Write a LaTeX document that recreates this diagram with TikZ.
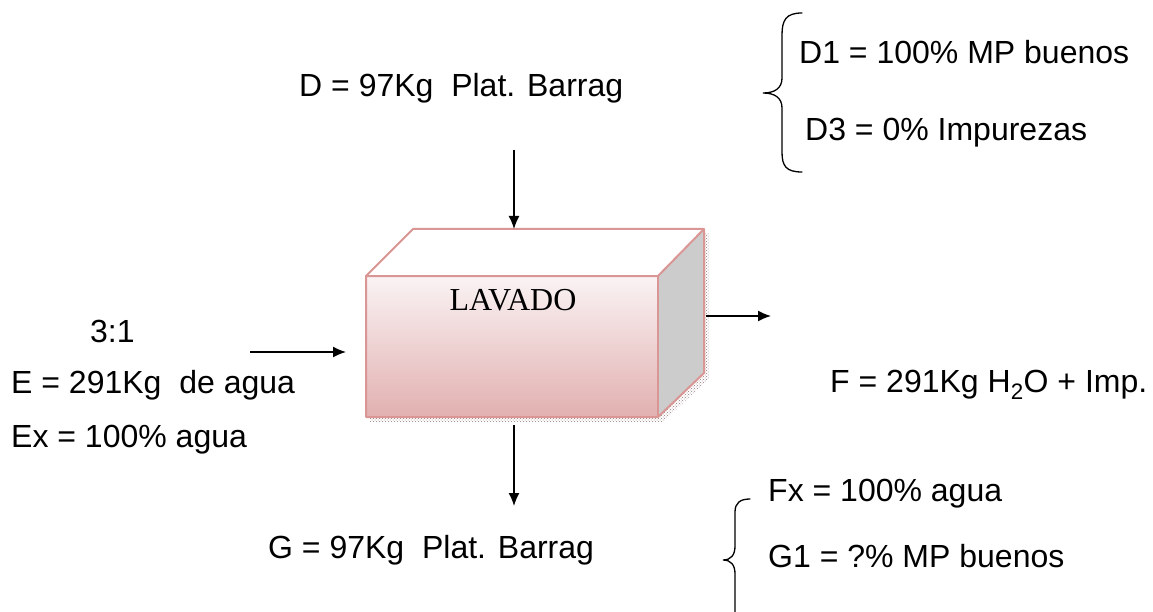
\documentclass[tikz,border=0pt]{standalone}
\usepackage{fontspec}
\setmainfont{Liberation Sans}
\newfontfamily\timesfont{Liberation Serif}
\usetikzlibrary{arrows.meta,patterns}
\definecolor{boxedge}{RGB}{217,150,148}
\definecolor{facetop}{RGB}{250,243,244}
\definecolor{facebot}{RGB}{226,176,176}
\definecolor{sidegray}{RGB}{204,204,204}
\definecolor{shadowc}{RGB}{150,120,120}
\tikzset{
  lbl/.style={font=\fontsize{32}{38}\selectfont, inner sep=0pt, anchor=west},
  flow/.style={line width=1.4pt, -{Latex[length=13pt,width=11pt]}},
  bracec/.style={line width=1.3pt, line cap=round},
}
\begin{document}
\begin{tikzpicture}[x=1pt,y=-1pt]
\useasboundingbox (0,0) rectangle (1153,612);
% shadow
\fill[pattern=crosshatch dots, pattern color=shadowc] (370,417) -- (370,422) -- (663,422) -- (709,378) -- (709,233) -- (704,233) -- (704,373) -- (658,417) -- cycle;
% box faces
\fill[white] (366,276) -- (413,229) -- (704,229) -- (658,276) -- cycle;
\fill[sidegray] (658,276) -- (704,229) -- (704,373) -- (658,417) -- cycle;
\shade[top color=facetop, bottom color=facebot] (366,276) rectangle (658,417);
\draw[boxedge, line width=2pt, line join=round] (366,276) -- (413,229) -- (704,229) -- (704,373) -- (658,417) -- (366,417) -- cycle;
\draw[boxedge, line width=2pt, line join=round] (366,276) -- (658,276) -- (704,229);
\draw[boxedge, line width=2pt] (658,276) -- (658,417);
\node[font=\timesfont\fontsize{32}{38}\selectfont, inner sep=0pt] (lav) at (513,300) {LAVADO};
% coordinates
\coordinate (boxtop) at (514,229);
\coordinate (boxbot) at (514,425);
\coordinate (boxleft) at (346,352);
\coordinate (boxright) at (706,316);
\coordinate (dstart) at (514,150);
\coordinate (estart) at (250,352);
\coordinate (fend) at (771,316);
\coordinate (gend) at (514,506);
% labels
\node[lbl] (D) at (299,88) {D = 97Kg\ \ Plat. Barrag};
\node[lbl] (D1) at (799,52) {D1 = 100\% MP buenos};
\node[lbl] (D3) at (805,133) {D3 = 0\% Impurezas};
\node[lbl] (r31) at (90,331) {3:1};
\node[lbl] (E) at (11,385) {E = 291Kg\ \ de agua};
\node[lbl] (Ex) at (11,440) {Ex = 100\% agua};
\node[lbl] (F) at (830,385) {F = 291Kg H\textsubscript{2}O + Imp.};
\node[lbl] (G) at (268,550) {G = 97Kg\ \ Plat. Barrag};
\node[lbl] (Fx) at (768,494) {Fx = 100\% agua};
\node[lbl] (G1) at (768,556) {G1 = ?\% MP buenos};
% arrows
\draw[flow] (dstart) -- (boxtop);
\draw[flow] (estart) -- (boxleft);
\draw[flow] (boxright) -- (fend);
\draw[flow] (boxbot) -- (gend);
% braces
\draw[bracec] (802,13) .. controls (786,13) and (782,20) .. (782,35) -- (782,78)
  .. controls (782,88) and (775,93) .. (763,93)
  .. controls (775,93) and (782,98) .. (782,108) -- (782,152)
  .. controls (782,166) and (786,172) .. (802,172);
\draw[bracec] (750,499) .. controls (740,499) and (735,503) .. (735,512) -- (735,546)
  .. controls (735,555) and (731,560) .. (723,560)
  .. controls (731,560) and (735,565) .. (735,574) -- (735,615);
\end{tikzpicture}
\end{document}
